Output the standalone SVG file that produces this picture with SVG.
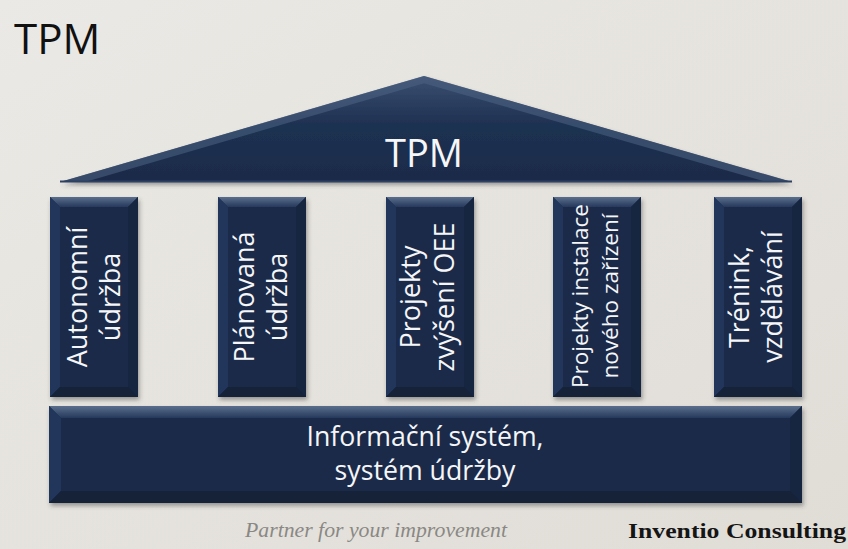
<svg xmlns="http://www.w3.org/2000/svg" xmlns:xlink="http://www.w3.org/1999/xlink" width="848" height="549" viewBox="0 0 848 549">
  <defs>
    <linearGradient id="bg" x1="0" y1="0" x2="1" y2="1">
      <stop offset="0" stop-color="#ebe9e5"/>
      <stop offset="1" stop-color="#e0ddd7"/>
    </linearGradient>
    <linearGradient id="topBevel" x1="0" y1="0" x2="0" y2="1">
      <stop offset="0" stop-color="#5a6e8c"/>
      <stop offset="1" stop-color="#26395c"/>
    </linearGradient>
    <linearGradient id="roofFill" x1="0" y1="76" x2="0" y2="182" gradientUnits="userSpaceOnUse">
      <stop offset="0" stop-color="#3a5071"/>
      <stop offset="0.45" stop-color="#1f3152"/>
      <stop offset="1" stop-color="#1a2b48"/>
    </linearGradient>
    <clipPath id="roofClip">
      <polygon points="60,182 424,76 792,182"/>
    </clipPath>
    <filter id="shadow" x="-10%" y="-10%" width="130%" height="130%">
      <feDropShadow dx="1.5" dy="3" stdDeviation="2" flood-color="#3a3a3a" flood-opacity="0.45"/>
    </filter>
    <!-- bevelled pillar, 88 x 200 -->
    <g id="pillar">
      <rect x="0" y="0" width="88" height="200" fill="#1a2b48"/>
      <polygon points="0,0 88,0 78,10 10,10" fill="url(#topBevel)"/>
      <polygon points="0,0 10,10 10,190 0,200" fill="#23365a"/>
      <polygon points="88,0 88,200 78,190 78,10" fill="#16253f"/>
      <polygon points="0,200 10,190 78,190 88,200" fill="#132039"/>
    </g>
  </defs>

  <style>
    .label { font-family: "Open Sans", "Liberation Sans", sans-serif; fill: #f5f6f8; text-anchor: middle; }
    .col { font-size: 27px; }
    .colSmall { font-size: 22.5px; }
  </style>

  <rect width="848" height="549" fill="url(#bg)"/>

  <text id="title" x="14" y="54" font-family="'Open Sans', 'Liberation Sans', sans-serif" font-size="42" fill="#111">TPM</text>

  <!-- roof -->
  <g id="roof">
    <polygon points="60,182 424,76 792,182" fill="url(#roofFill)" filter="url(#shadow)"/>
    <path d="M60,182 L424,76 L792,182" fill="none" stroke="#4f6485" stroke-width="14" stroke-opacity="0.55" clip-path="url(#roofClip)"/>
    <line x1="60" y1="181.5" x2="792" y2="181.5" stroke="#2d4163" stroke-width="2"/>
    <text class="label" x="424" y="167" font-size="38">TPM</text>
  </g>

  <!-- pillars -->
  <g id="pillar-1">
    <use xlink:href="#pillar" x="50" y="197" filter="url(#shadow)"/>
    <g transform="translate(94,297) rotate(-90)">
      <text class="label col" x="0" y="-7">Autonomní</text>
      <text class="label col" x="0" y="26">údržba</text>
    </g>
  </g>
  <g id="pillar-2">
    <use xlink:href="#pillar" x="218" y="197" filter="url(#shadow)"/>
    <g transform="translate(262,297) rotate(-90)">
      <text class="label col" x="0" y="-8">Plánovaná</text>
      <text class="label col" x="0" y="25">údržba</text>
    </g>
  </g>
  <g id="pillar-3">
    <use xlink:href="#pillar" x="386" y="197" filter="url(#shadow)"/>
    <g transform="translate(430,297) rotate(-90)">
      <text class="label col" x="0" y="-10">Projekty</text>
      <text class="label col" x="0" y="24">zvýšení OEE</text>
    </g>
  </g>
  <g id="pillar-4">
    <use xlink:href="#pillar" x="553" y="197" filter="url(#shadow)"/>
    <g transform="translate(597,296) rotate(-90)">
      <text class="label colSmall" x="0" y="-9">Projekty instalace</text>
      <text class="label colSmall" x="0" y="21">nového zařízení</text>
    </g>
  </g>
  <g id="pillar-5">
    <use xlink:href="#pillar" x="714" y="197" filter="url(#shadow)"/>
    <g transform="translate(758,297) rotate(-90)">
      <text class="label col" x="0" y="-9">Trénink,</text>
      <text class="label col" x="0" y="24">vzdělávání</text>
    </g>
  </g>

  <!-- foundation -->
  <g id="base">
    <g filter="url(#shadow)">
      <rect x="49" y="406" width="753" height="97" fill="#1a2b48"/>
      <polygon points="49,406 802,406 790,418 61,418" fill="url(#topBevel)"/>
      <polygon points="49,406 61,418 61,491 49,503" fill="#23365a"/>
      <polygon points="802,406 802,503 790,491 790,418" fill="#16253f"/>
      <polygon points="49,503 61,491 790,491 802,503" fill="#132039"/>
    </g>
    <text class="label" x="425" y="446" font-size="26.7">Informační systém,</text>
    <text class="label" x="425" y="480" font-size="26.7">systém údržby</text>
  </g>

  <!-- footer -->
  <g id="footer">
    <text x="245" y="537" font-family="'Liberation Serif', serif" font-style="italic" font-size="22" fill="#8a8884" textLength="262" lengthAdjust="spacingAndGlyphs">Partner for your improvement</text>
    <text x="628" y="538" font-family="'Liberation Serif', serif" font-weight="bold" font-size="22" fill="#151515" textLength="218" lengthAdjust="spacingAndGlyphs">Inventio Consulting</text>
  </g>
</svg>
